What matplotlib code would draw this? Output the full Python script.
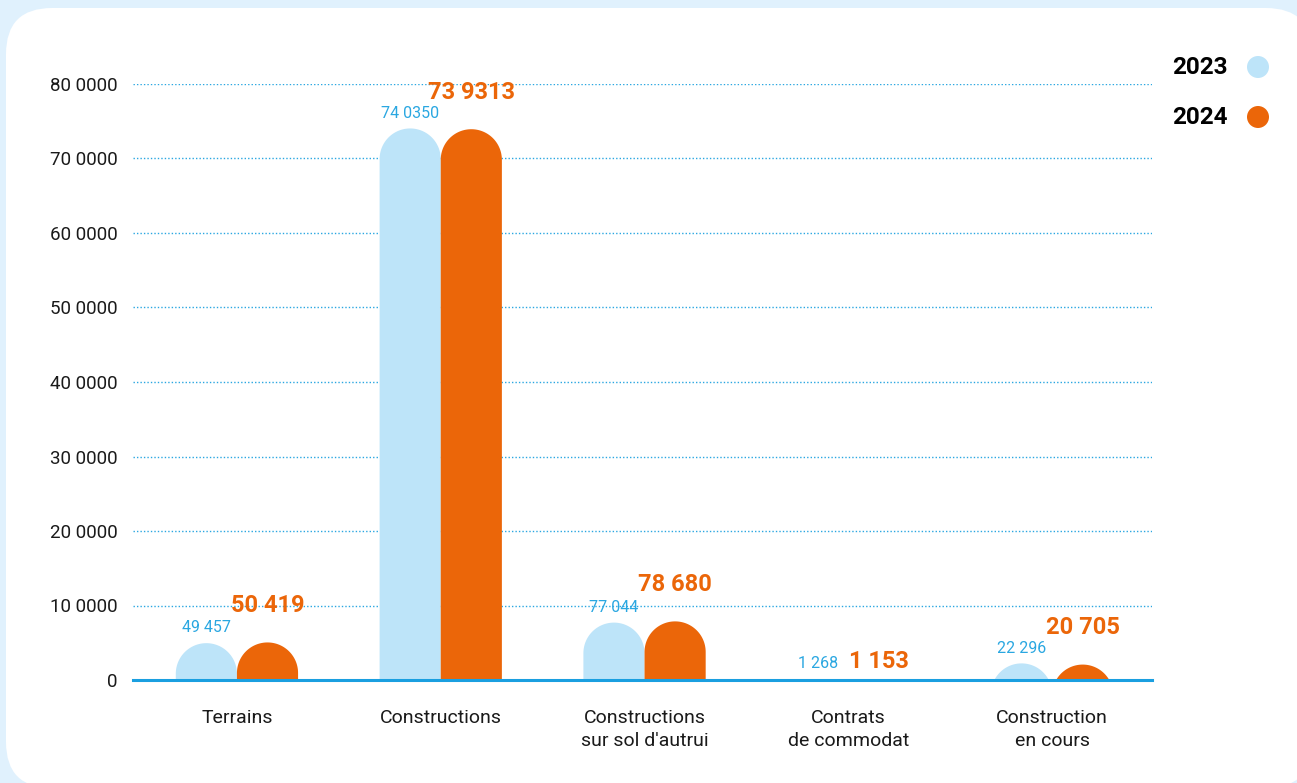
import numpy as np
import matplotlib
matplotlib.use('Agg')
import matplotlib.pyplot as plt
from matplotlib.patches import FancyBboxPatch, Circle, Polygon
from matplotlib.transforms import IdentityTransform

plt.rcParams['font.family'] = ['Roboto', 'DejaVu Sans']

categories = ['Terrains', 'Constructions', 'Constructions\nsur sol d\'autrui',
              'Contrats\nde commodat', 'Construction\nen cours']
values_2023 = [49457, 740350, 77044, 1268, 22296]
values_2024 = [50419, 739313, 78680, 1153, 20705]
labels_2023 = ['49 457', '74 0350', '77 044', '1 268', '22 296']
labels_2024 = ['50 419', '73 9313', '78 680', '1 153', '20 705']
yticks = [0, 100000, 200000, 300000, 400000, 500000, 600000, 700000, 800000]
ytick_labels = ['0', '10 0000', '20 0000', '30 0000', '40 0000',
                '50 0000', '60 0000', '70 0000', '80 0000']
years = ['2023', '2024']

c23 = '#bde4f9'
c24 = '#eb6609'
blue_txt = '#2aa7e1'
axis_blue = '#1a9fe0'
bg = '#e0f1fd'

W, H = 1297, 783
fig = plt.figure(figsize=(W / 100, H / 100), dpi=100, facecolor=bg)

# white rounded card behind everything
card = FancyBboxPatch((6, H - 788), 1306, 780, boxstyle='round,pad=0,rounding_size=46',
                      transform=IdentityTransform(), facecolor='white', edgecolor='none',
                      zorder=-10)
fig.patches.append(card)

ax_l, ax_r, ax_t, ax_b = 133, 1152, 84, 680
ax = fig.add_axes([ax_l / W, (H - ax_b) / H, (ax_r - ax_l) / W, (ax_b - ax_t) / H])
ax.set_facecolor('none')
ax.set_xlim(-0.51, 4.49)
ax.set_ylim(0, 800000)

bw = 0.3
x = np.arange(len(categories))
# radius of the rounded top, in y data units, so the cap is a circle on screen
r_px = bw / 2 * (ax_r - ax_l) / 5
ry = r_px * 800000 / (ax_b - ax_t)


def round_bar(cx, h, color):
    t = np.linspace(np.pi, 0, 60)
    yc = h - ry
    xs = list(cx + bw / 2 * np.cos(t))
    ys = list(yc + ry * np.sin(t))
    bottom = min(0, yc) - ry
    pts = [(cx - bw / 2, bottom)] + list(zip(xs, ys)) + [(cx + bw / 2, bottom)]
    ax.add_patch(Polygon(pts, closed=True, facecolor=color, edgecolor='none', zorder=2))


for i in range(len(categories)):
    round_bar(x[i] - bw / 2, values_2023[i], c23)
    round_bar(x[i] + bw / 2, values_2024[i], c24)
    ax.annotate(labels_2023[i], (x[i] - bw / 2, values_2023[i]), xytext=(0, 11),
                textcoords='offset points', ha='center', va='center',
                fontsize=11.5, color=blue_txt, zorder=4)
    off = 13 if values_2024[i] < 5000 else 26.5
    ax.annotate(labels_2024[i], (x[i] + bw / 2, values_2024[i]), xytext=(0, off),
                textcoords='offset points', ha='center', va='center',
                fontsize=17, fontweight='bold', color=c24, zorder=4)

# grid
for yv in yticks[1:]:
    ax.axhline(yv, color=blue_txt, lw=1, ls=(0, (1, 1.5)), zorder=1)
ax.axhline(0, color=axis_blue, lw=2.2, zorder=3, clip_on=False)

ax.set_yticks(yticks)
ax.set_yticklabels(ytick_labels, fontsize=13.5, color='#1a1a1a')
ax.tick_params(axis='y', length=0, pad=11)
ax.set_xticks(x)
ax.set_xticklabels(categories, fontsize=14, color='#1a1a1a', linespacing=1.35)
ax.tick_params(axis='x', length=0, pad=21)
for s in ax.spines.values():
    s.set_visible(False)

# legend
for k, (yr, col) in enumerate(zip(years, [c23, c24])):
    yp = H - (67 + 50 * k)
    fig.text(1228 / W, yp / H, yr, ha='right', va='center', fontsize=17.5,
             fontweight='bold', color='black')
    fig.patches.append(Circle((1258, yp), 11, transform=IdentityTransform(),
                              facecolor=col, edgecolor='none'))

fig.savefig('out.png', dpi=100, facecolor=bg)
